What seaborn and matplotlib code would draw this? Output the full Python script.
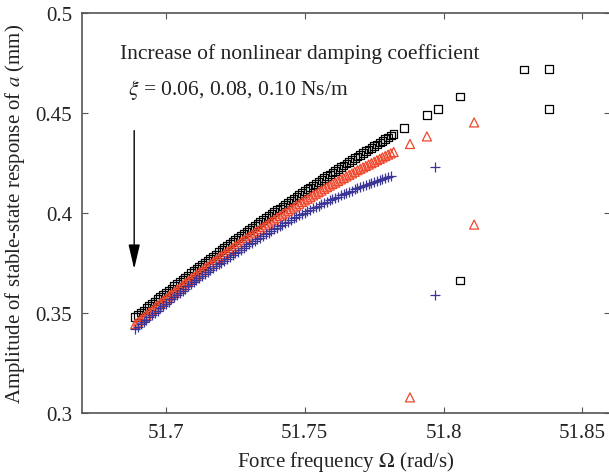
import numpy as np
import pandas as pd
import matplotlib
matplotlib.use("Agg")
import matplotlib.pyplot as plt
import seaborn as sns

# frequency sweep (rad/s) shared by the three dense branches
omega = [
    51.689, 51.690, 51.691, 51.692, 51.693, 51.694, 51.695, 51.696, 51.697, 51.698,
    51.699, 51.700, 51.701, 51.702, 51.703, 51.704, 51.705, 51.706, 51.707, 51.708,
    51.709, 51.710, 51.711, 51.712, 51.713, 51.714, 51.715, 51.716, 51.717, 51.718,
    51.719, 51.720, 51.721, 51.722, 51.723, 51.724, 51.725, 51.726, 51.727, 51.728,
    51.729, 51.730, 51.731, 51.732, 51.733, 51.734, 51.735, 51.736, 51.737, 51.738,
    51.739, 51.740, 51.741, 51.742, 51.743, 51.744, 51.745, 51.746, 51.747, 51.748,
    51.749, 51.750, 51.751, 51.752, 51.753, 51.754, 51.755, 51.756, 51.757, 51.758,
    51.759, 51.760, 51.761, 51.762, 51.763, 51.764, 51.765, 51.766, 51.767, 51.768,
    51.769, 51.770, 51.771, 51.772, 51.773, 51.774, 51.775, 51.776, 51.777, 51.778,
    51.779, 51.780, 51.781, 51.782,
]

# xi = 0.06 (black squares)
amp_006 = [
    0.3480, 0.3491, 0.3502, 0.3513, 0.3524, 0.3535, 0.3547, 0.3558, 0.3569, 0.3580,
    0.3591, 0.3602, 0.3613, 0.3623, 0.3634, 0.3645, 0.3656, 0.3667, 0.3677, 0.3688,
    0.3699, 0.3709, 0.3720, 0.3730, 0.3741, 0.3751, 0.3762, 0.3772, 0.3783, 0.3793,
    0.3804, 0.3814, 0.3824, 0.3834, 0.3844, 0.3855, 0.3865, 0.3875, 0.3885, 0.3895,
    0.3905, 0.3915, 0.3925, 0.3935, 0.3945, 0.3955, 0.3965, 0.3974, 0.3984, 0.3994,
    0.4004, 0.4014, 0.4023, 0.4033, 0.4042, 0.4052, 0.4062, 0.4071, 0.4081, 0.4090,
    0.4100, 0.4109, 0.4119, 0.4128, 0.4137, 0.4146, 0.4156, 0.4165, 0.4174, 0.4184,
    0.4193, 0.4202, 0.4211, 0.4220, 0.4229, 0.4238, 0.4247, 0.4256, 0.4265, 0.4274,
    0.4283, 0.4291, 0.4300, 0.4309, 0.4317, 0.4326, 0.4335, 0.4343, 0.4352, 0.4361,
    0.4370, 0.4378, 0.4387, 0.4395,
]
omega_006_extra = [51.7857, 51.7940, 51.7979, 51.8060, 51.8289, 51.8379, 51.8379, 51.8060]
amp_006_extra = [0.4425, 0.4490, 0.4520, 0.4582, 0.4717, 0.4720, 0.4520, 0.3662]

# xi = 0.08 (red triangles)
amp_008 = [
    0.3445, 0.3457, 0.3468, 0.3480, 0.3491, 0.3503, 0.3514, 0.3526, 0.3538, 0.3549,
    0.3561, 0.3572, 0.3583, 0.3594, 0.3605, 0.3616, 0.3627, 0.3638, 0.3649, 0.3660,
    0.3671, 0.3681, 0.3692, 0.3702, 0.3713, 0.3723, 0.3733, 0.3744, 0.3754, 0.3765,
    0.3775, 0.3785, 0.3795, 0.3805, 0.3815, 0.3824, 0.3834, 0.3844, 0.3854, 0.3864,
    0.3874, 0.3883, 0.3892, 0.3902, 0.3911, 0.3920, 0.3930, 0.3939, 0.3948, 0.3958,
    0.3967, 0.3976, 0.3985, 0.3993, 0.4002, 0.4011, 0.4020, 0.4028, 0.4037, 0.4046,
    0.4055, 0.4063, 0.4071, 0.4079, 0.4088, 0.4096, 0.4104, 0.4112, 0.4121, 0.4129,
    0.4137, 0.4145, 0.4152, 0.4160, 0.4168, 0.4175, 0.4183, 0.4191, 0.4198, 0.4206,
    0.4214, 0.4221, 0.4228, 0.4235, 0.4242, 0.4249, 0.4256, 0.4264, 0.4271, 0.4278,
    0.4285, 0.4292, 0.4298, 0.4305,
]
omega_008_extra = [51.7879, 51.7940, 51.8110, 51.8110, 51.7879]
amp_008_extra = [0.4345, 0.4383, 0.4453, 0.3942, 0.3078]

# xi = 0.10 (blue plus)
amp_010 = [
    0.3420, 0.3432, 0.3443, 0.3455, 0.3466, 0.3478, 0.3489, 0.3501, 0.3512, 0.3524,
    0.3536, 0.3546, 0.3557, 0.3568, 0.3579, 0.3590, 0.3600, 0.3611, 0.3622, 0.3633,
    0.3643, 0.3653, 0.3663, 0.3673, 0.3683, 0.3693, 0.3703, 0.3713, 0.3723, 0.3733,
    0.3743, 0.3752, 0.3761, 0.3771, 0.3780, 0.3789, 0.3798, 0.3807, 0.3817, 0.3826,
    0.3835, 0.3843, 0.3852, 0.3860, 0.3869, 0.3877, 0.3886, 0.3894, 0.3902, 0.3911,
    0.3919, 0.3927, 0.3935, 0.3942, 0.3950, 0.3957, 0.3965, 0.3973, 0.3980, 0.3988,
    0.3996, 0.4002, 0.4009, 0.4016, 0.4023, 0.4030, 0.4037, 0.4043, 0.4050, 0.4057,
    0.4064, 0.4070, 0.4076, 0.4082, 0.4088, 0.4094, 0.4100, 0.4106, 0.4112, 0.4119,
    0.4125, 0.4130, 0.4135, 0.4140, 0.4146, 0.4151, 0.4156, 0.4161, 0.4167, 0.4172,
    0.4177, 0.4182, 0.4187,
]
omega_010_extra = [51.7970, 51.7970]
amp_010_extra = [0.4232, 0.3592]

x_ticks = [51.7, 51.75, 51.8, 51.85]
x_ticklabels = ["51.7", "51.75", "51.8", "51.85"]
y_ticks = [0.3, 0.35, 0.4, 0.45, 0.5]
y_ticklabels = ["0.3", "0.35", "0.4", "0.45", "0.5"]

sns.set_style("ticks")
plt.rcParams["font.family"] = ["Liberation Serif", "DejaVu Serif"]
plt.rcParams["mathtext.fontset"] = "stix"

fig = plt.figure(figsize=(6.09, 4.77), dpi=100)
ax = fig.add_axes([0.1346, 0.1321, 1.002 - 0.1346, 0.9706 - 0.1321])

df_006 = pd.DataFrame({"omega": omega + omega_006_extra, "amp": amp_006 + amp_006_extra})
df_008 = pd.DataFrame({"omega": omega + omega_008_extra, "amp": amp_008 + amp_008_extra})
df_010 = pd.DataFrame({"omega": omega[:len(amp_010)] + omega_010_extra,
                       "amp": amp_010 + amp_010_extra})

sns.scatterplot(data=df_010, x="omega", y="amp", marker="+", s=45,
                color="#3b3597", linewidth=0.9, ax=ax, zorder=3)
sns.scatterplot(data=df_008, x="omega", y="amp", marker="^", s=42,
                facecolors="none", edgecolors="#f0472c", linewidths=0.9, ax=ax, zorder=2)
sns.scatterplot(data=df_006, x="omega", y="amp", marker="s", s=30,
                facecolors="none", edgecolors="black", linewidths=0.9, ax=ax, zorder=1)

ax.set_xlim(51.6698, 51.86)
ax.set_ylim(0.3, 0.5)
ax.set_xticks(x_ticks)
ax.set_xticklabels(x_ticklabels)
ax.set_yticks(y_ticks)
ax.set_yticklabels(y_ticklabels)
ax.tick_params(direction="in", length=4, width=0.8, color="#555555",
               labelsize=15, labelcolor="#222222", top=True, right=True, pad=7)
for sp in ax.spines.values():
    sp.set_color("#555555")
    sp.set_linewidth(1.2)

ax.set_xlabel(r"Force frequency $\Omega$ (rad/s)", fontsize=15, color="#222222", labelpad=5)
ax.set_ylabel(r"Amplitude of stable-state response of $a$ (mm)", fontsize=15,
              color="#222222", labelpad=6)

ax.text(51.6835, 0.4775, "Increase of nonlinear damping coefficient",
        fontsize=15.5, color="#222222", va="baseline", ha="left")
ax.text(51.6862, 0.4595, r"$\xi$ = 0.06, 0.08, 0.10 Ns/m",
        fontsize=15.5, color="#222222", va="baseline", ha="left")
ax.annotate("", xy=(51.6886, 0.372), xytext=(51.6886, 0.4412),
            arrowprops=dict(arrowstyle="-|>,head_length=1.5,head_width=0.35",
                            color="black", lw=1.0, shrinkA=0, shrinkB=0))

fig.savefig("out.png", dpi=100)
